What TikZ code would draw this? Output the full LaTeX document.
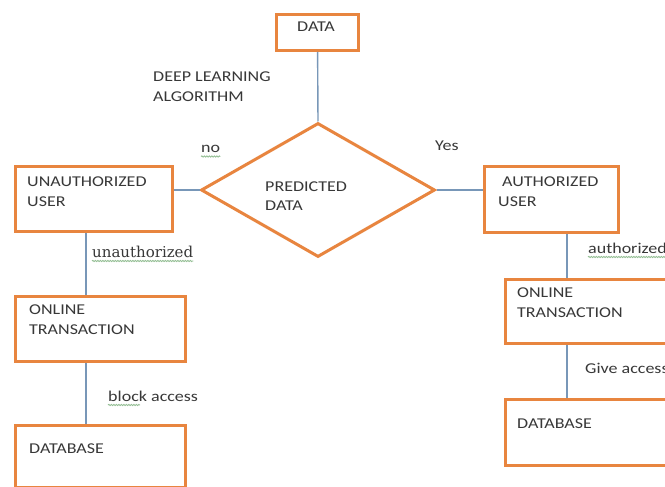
\documentclass[tikz,border=0pt]{standalone}
\usepackage{fontspec}
\setmainfont{Carlito}[FakeStretch=1.2]
\newfontfamily\tagserif{DejaVu Serif}
\usetikzlibrary{shapes.geometric,decorations.pathmorphing}
\definecolor{boxorange}{HTML}{E8853F}
\definecolor{linkblue}{HTML}{7897B8}
\definecolor{inkgray}{HTML}{383838}
\definecolor{spellgreen}{HTML}{96C096}
\tikzset{
  box/.style={draw=boxorange, line width=3pt, anchor=north west, inner sep=0pt},
  % multi-line texts are anchored at the baseline of their last line
  txt/.style={anchor=base west, align=left, inner sep=0pt, text=inkgray,
    font=\fontsize{15}{20}\selectfont},
  link/.style={draw=linkblue, line width=1.4pt},
  spell/.style={draw=spellgreen, line width=0.9pt, decorate,
    decoration={snake, amplitude=0.6pt, segment length=2.5pt}},
}
\begin{document}
\begin{tikzpicture}[x=1pt,y=-1pt]
\fill[white] (0,0) rectangle (665,487);
\useasboundingbox (0,0) rectangle (665,487);

% boxes
\node[box, minimum width=82,  minimum height=36] (data) at (275,13)  {};
\node[box, minimum width=157, minimum height=65] (uu)   at (14,165)  {};
\node[box, minimum width=134, minimum height=66] (au)   at (483,165) {};
\node[box, minimum width=170, minimum height=65] (ol)   at (14,295)  {};
\node[box, minimum width=170, minimum height=62] (dbl)  at (14,424)  {};
\node[box, minimum width=196, minimum height=64] (or)   at (504,278) {};
\node[box, minimum width=196, minimum height=66] (dbr)  at (504,398) {};

% decision
\node[draw=boxorange, line width=3pt, diamond, inner sep=0pt,
      minimum width=234, minimum height=134] (pred) at (318,190) {};

% texts
\node[txt, anchor=base] (data-t) at (316,32) {DATA};
\node[txt] (algo)   at (153,102) {DEEP LEARNING\\ALGORITHM};
\node[txt] (pred-t) at (265,211) {PREDICTED\\DATA};
\node[txt] (no)     at (201,153) {no};
\node[txt] (yes)    at (435,150) {Yes};
\node[txt] (uu-t)   at (27,206)  {UNAUTHORIZED\\USER};
\node[txt] (au-t)   at (498,206) {\hspace*{4pt}AUTHORIZED\\USER};
\node[txt] (ol-t)   at (29,334)  {ONLINE\\TRANSACTION};
\node[txt] (dbl-t)  at (29,453)  {DATABASE};
\node[txt] (or-t)   at (517,317) {ONLINE\\TRANSACTION};
\node[txt] (dbr-t)  at (517,428) {DATABASE};
\node[txt, font=\tagserif\fontsize{15}{20}\selectfont] (unauth) at (92,257) {unauthorized};
\node[txt] (auth)   at (588,253) {authorized};
\node[txt] (block)  at (108,401) {block access};
\node[txt] (give)   at (585,373) {Give access};

% connectors
\coordinate (lcol) at (86,0);
\coordinate (rcol) at (567,0);
\draw[link] (data) -- (pred.north);
\draw[link] (pred.west -| uu.east) -- (pred.west);
\draw[link] (pred.east) -- (pred.east -| au.west);
\draw[link] (uu.south -| lcol) -- (ol.north -| lcol);
\draw[link] (ol.south -| lcol) -- (dbl.north -| lcol);
\draw[link] (au.south -| rcol) -- (or.north -| rcol);
\draw[link] (or.south -| rcol) -- (dbr.north -| rcol);

% spelling marks
\draw[spell] ([yshift=-3.5pt]no.base west) -- ([yshift=-3.5pt]no.base east);
\draw[spell] ([yshift=-4pt]unauth.base west) -- ([yshift=-4pt]unauth.base east);
\draw[spell] ([yshift=-4pt]block.base west) -- ++(32,0);
\draw[spell] ([yshift=-4pt]auth.base west) -- ([yshift=-4pt]auth.base east);
\end{tikzpicture}
\end{document}
